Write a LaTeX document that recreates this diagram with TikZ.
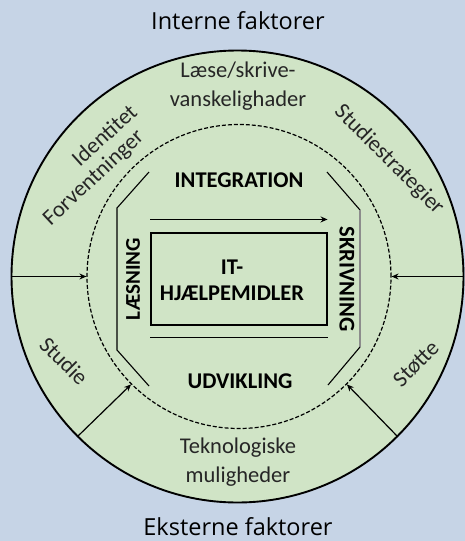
\documentclass[tikz,border=0pt]{standalone}
\usepackage{fontspec}
\setmainfont{Carlito}
\newfontfamily\titlefont{Open Sans}
\usetikzlibrary{arrows.meta}
\definecolor{bgblue}{RGB}{198,212,230}
\definecolor{ringgreen}{RGB}{208,228,198}
\begin{document}
\begin{tikzpicture}[x=1pt,y=-1pt,
  ring/.style={font=\fontsize{22.5}{29}\selectfont, align=center, text=black!85, inner sep=0pt},
  core/.style={font=\bfseries\fontsize{22.5}{26}\selectfont, inner sep=0pt},
  title/.style={font=\titlefont\fontsize{23.5}{27}\selectfont, inner sep=0pt, anchor=base},
  feed/.style={line width=1.2pt, -{Stealth[length=7pt,width=6pt]}},
  bracket/.style={line width=1.1pt},
]
% background and frame
\fill[bgblue] (0,0) rectangle (465,541);
\useasboundingbox (0,0) rectangle (465,541);

% outer ring and dashed inner circle
\node[circle, draw, line width=1.9pt, fill=ringgreen, minimum size=452pt, inner sep=0pt] (outer) at (237.5,276.5) {};
\node[circle, draw, dash pattern=on 4pt off 2pt, line width=1.2pt, minimum size=304pt, inner sep=0pt] (inner) at (239,276.5) {};

% sector dividers with arrows pointing inwards
\draw[feed] (outer.180) -- (inner.180);
\draw[feed] (outer.0) -- (inner.0);
\draw[feed] (outer.225) -- (inner.225);
\draw[feed] (outer.315) -- (inner.315);

% headings
\node[title] (intern) at (238,29.5) {Interne faktorer};
\node[title] (ekstern) at (238,535) {Eksterne faktorer};

% internal factors
\node[ring] (laese) at (238,86) {Læse/skrive-\\vanskelighader};
\node[ring, rotate=42] (ident) at (104,135) {Identitet};
\node[ring, rotate=43] (forv) at (94,178) {Forventninger};
\node[ring, rotate=-45] (strat) at (389,160) {Studiestrategier};

% external factors
\node[ring, rotate=-45] (studie) at (64,361) {Studie};
\node[ring, rotate=45] (stoette) at (416,364) {Støtte};
\node[ring] (tekno) at (238,462) {Teknologiske\\muligheder};

% core brackets
\coordinate (lt) at (149,172);
\coordinate (ltv) at (117,208);
\coordinate (lbv) at (117,350);
\coordinate (lb) at (149,386);
\coordinate (rt) at (327,172);
\coordinate (rtv) at (360,210);
\coordinate (rbv) at (360,347);
\coordinate (rb) at (328,385);
\draw[bracket] (lt) -- (ltv) -- (lbv) -- (lb);
\draw[bracket] (rt) -- (rtv);
\draw[line width=1.5pt, black!45] (rtv) -- (rbv);
\draw[bracket] (rbv) -- (rb);

% core box
\node[draw, line width=1.1pt, minimum width=176pt, minimum height=92pt, inner sep=0pt] (box) at (239,279) {};
\node[core, align=center] (it) at (232,280) {IT-\\HJÆLPEMIDLER};
\draw[feed] ([yshift=13pt]box.north west) -- ([yshift=13pt]box.north east);
\draw[line width=1.2pt] ([yshift=-12pt]box.south west) -- ([yshift=-12pt]box.south east);

% core labels
\node[core] (integ) at (239,180) {INTEGRATION};
\node[core] (udv) at (240,381) {UDVIKLING};
\node[core, font=\bfseries\fontsize{21}{24}\selectfont, rotate=90] (laes) at (133,279) {LÆSNING};
\node[core, rotate=-90] (skriv) at (347,279) {SKRIVNING};
\end{tikzpicture}
\end{document}
